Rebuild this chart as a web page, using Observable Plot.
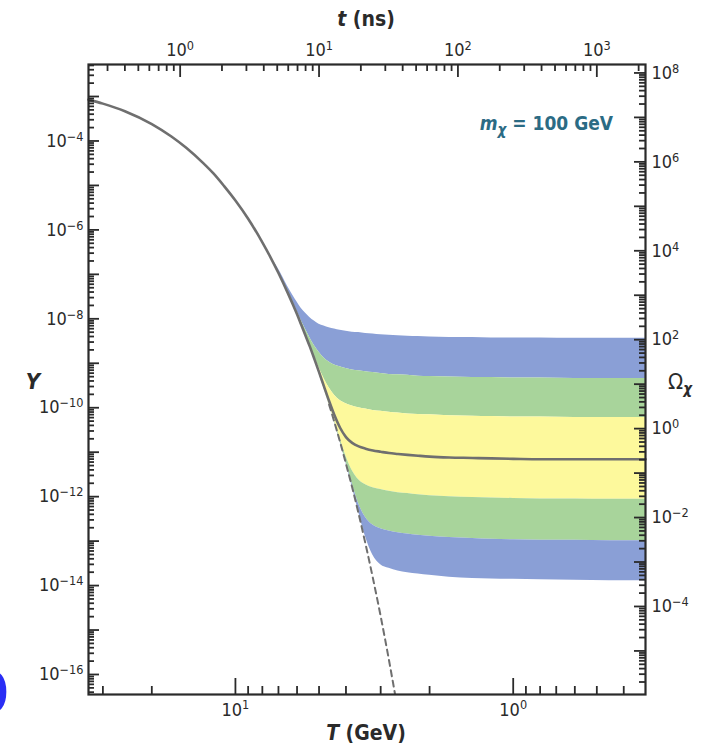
<!DOCTYPE html>
<html><head><meta charset="utf-8">
<script src="https://cdn.jsdelivr.net/npm/d3@7"></script>
<script src="https://cdn.jsdelivr.net/npm/@observablehq/plot@0.6"></script>
<style>
html,body{margin:0;padding:0;background:#fff;overflow:hidden}
#chart{position:relative;width:722px;height:744px}
</style></head><body><div id="chart"></div>
<script>
// ---------- data (log10 of Y) ----------
const solidT = [33.8, 30, 25, 20, 17, 15, 13, 12, 11, 10, 9, 8, 7.5, 7, 6.5, 6.2, 6, 5.8, 5.6, 5.4, 5.2, 5, 4.8, 4.6, 4.4, 4.2, 4, 3.8, 3.6, 3.4, 3.2, 3, 2.8, 2.6, 2.4, 2.2, 2, 1.7, 1.4, 1.2, 1, 0.8, 0.6, 0.45, 0.334];
const solidLogY = [-3.07, -3.16, -3.33, -3.62, -3.90, -4.16, -4.51, -4.73, -5.01, -5.34, -5.75, -6.28, -6.60, -6.97, -7.40, -7.69, -7.90, -8.13, -8.37, -8.62, -8.90, -9.20, -9.52, -9.85, -10.17, -10.45, -10.66, -10.79, -10.87, -10.92, -10.96, -10.99, -11.02, -11.04, -11.06, -11.08, -11.10, -11.12, -11.13, -11.14, -11.15, -11.16, -11.16, -11.16, -11.16];

const dashedT = [4.6, 4.4, 4.2, 4, 3.8, 3.6, 3.4, 3.2, 3, 2.8, 2.7, 2.6];
const dashedLogY = [-9.93, -10.33, -10.77, -11.26, -11.79, -12.39, -13.07, -13.83, -14.69, -15.68, -16.23, -16.82];

const bandT = [7.5, 7, 6.5, 6.2, 6, 5.8, 5.6, 5.4, 5.2, 5, 4.8, 4.6, 4.4, 4.2, 4, 3.8, 3.6, 3.4, 3.2, 3, 2.8, 2.6, 2.4, 2.2, 2, 1.7, 1.4, 1.2, 1, 0.8, 0.6, 0.45, 0.334];
const c1 = [-6.60, -6.88, -7.26, -7.48, -7.62, -7.76, -7.87, -7.97, -8.05, -8.12, -8.16, -8.20, -8.23, -8.26, -8.28, -8.30, -8.31, -8.33, -8.34, -8.36, -8.37, -8.38, -8.39, -8.40, -8.41, -8.42, -8.42, -8.43, -8.43, -8.43, -8.44, -8.44, -8.44];
const c2 = [-6.60, -6.97, -7.34, -7.63, -7.83, -8.03, -8.23, -8.42, -8.60, -8.75, -8.88, -8.97, -9.04, -9.08, -9.12, -9.15, -9.17, -9.19, -9.21, -9.23, -9.25, -9.26, -9.27, -9.29, -9.30, -9.31, -9.32, -9.32, -9.33, -9.33, -9.34, -9.34, -9.34];
const c3 = [-6.60, -6.97, -7.40, -7.69, -7.87, -8.10, -8.33, -8.58, -8.84, -9.10, -9.34, -9.55, -9.72, -9.84, -9.91, -9.96, -10.00, -10.03, -10.06, -10.08, -10.10, -10.12, -10.14, -10.15, -10.16, -10.18, -10.19, -10.20, -10.21, -10.21, -10.22, -10.22, -10.22];
const c4 = [-6.60, -6.97, -7.40, -7.69, -7.90, -8.13, -8.37, -8.62, -8.90, -9.20, -9.52, -9.85, -10.17, -10.45, -10.66, -10.79, -10.87, -10.92, -10.96, -10.99, -11.02, -11.04, -11.06, -11.08, -11.10, -11.12, -11.13, -11.14, -11.15, -11.16, -11.16, -11.16, -11.16];
const c5 = [-6.60, -6.97, -7.40, -7.69, -7.90, -8.13, -8.37, -8.64, -8.92, -9.22, -9.55, -9.91, -10.30, -10.70, -11.09, -11.41, -11.62, -11.73, -11.80, -11.84, -11.88, -11.91, -11.93, -11.96, -11.98, -12.00, -12.02, -12.03, -12.04, -12.05, -12.05, -12.06, -12.06];
const c6 = [-6.60, -6.97, -7.40, -7.69, -7.90, -8.13, -8.37, -8.64, -8.92, -9.23, -9.57, -9.93, -10.32, -10.76, -11.22, -11.71, -12.16, -12.47, -12.64, -12.72, -12.77, -12.81, -12.84, -12.87, -12.89, -12.92, -12.94, -12.96, -12.97, -12.98, -12.98, -12.99, -12.99];
const c7 = [-6.60, -6.97, -7.40, -7.69, -7.90, -8.13, -8.37, -8.64, -8.92, -9.23, -9.57, -9.93, -10.33, -10.77, -11.25, -11.78, -12.35, -12.91, -13.32, -13.53, -13.61, -13.67, -13.71, -13.74, -13.77, -13.81, -13.84, -13.85, -13.86, -13.87, -13.88, -13.89, -13.89];

// axis / tick data
const xDomain = [33.8, 0.334];          // T (GeV), decreasing to the right
const yDomainExp = [-16.45, -2.28];     // log10 Y
const yLabelExp = [-16, -14, -12, -10, -8, -6, -4];
const omegaLabelExp = [-4, -2, 0, 2, 4, 6, 8];
const omegaOffset = 10.47;              // log10(Omega / Y)
const TLabels = [10, 1];
const TLabelExp = [1, 0];
const tLabels = [1, 10, 100, 1000];     // t (ns)
const tConst = 250;                     // t(ns) = tConst / T(GeV)^2
const bandColors = ["#8a9fd6", "#a8d49b", "#fdf99c", "#fdf99c", "#a8d49b", "#8a9fd6"];

// ---------- helpers ----------
const p10 = v => Math.pow(10, v);
const FONT = "'Liberation Sans Narrow','DejaVu Sans Condensed','Liberation Sans',sans-serif";
const ML = 88, MR = 77, MT = 64, MB = 50, W = 722, H = 744;
const FW = W - ML - MR, FH = H - MT - MB;
const INK = "#2a2a2a";

const inDom = (v, lo, hi) => v >= lo && v <= hi;
const yLo = p10(yDomainExp[0]), yHi = p10(yDomainExp[1]);
function logTicks(e0, e1, lo, hi) {
  const major = [], minor = [];
  for (let e = e0; e <= e1; e++) {
    const b = p10(e);
    if (inDom(b, lo, hi)) major.push(b);
    for (let k = 2; k <= 9; k++) if (inDom(k * b, lo, hi)) minor.push(k * b);
  }
  return {major, minor};
}
const yT = logTicks(-17, -2, yLo, yHi);
const om = logTicks(-7, 9, yLo * p10(omegaOffset), yHi * p10(omegaOffset));
const omMajor = om.major.map(v => v / p10(omegaOffset));
const omMinor = om.minor.map(v => v / p10(omegaOffset));
const TT = logTicks(-1, 2, xDomain[1], xDomain[0]);
const tMin = tConst / (xDomain[0] ** 2), tMax = tConst / (xDomain[1] ** 2);
const tt = logTicks(-1, 4, tMin, tMax);
const tToT = t => Math.sqrt(tConst / t);

const bandRows = bandT.map((T, i) => ({T, c1: p10(c1[i]), c2: p10(c2[i]), c3: p10(c3[i]), c4: p10(c4[i]), c5: p10(c5[i]), c6: p10(c6[i]), c7: p10(c7[i])}));
const solidRows = solidT.map((T, i) => ({T, Y: p10(solidLogY[i])}));
const dashedRows = dashedT.map((T, i) => ({T, Y: p10(dashedLogY[i])}));
const pairs = [["c1","c2"],["c2","c3"],["c3","c4"],["c4","c5"],["c5","c6"],["c6","c7"]];

const tickStyle = {stroke: INK, strokeWidth: 1.8};
const MAJ = 11, MIN = 6, XMAJ = 13, XMIN = 7;

const chart = Plot.plot({
  width: W, height: H,
  marginLeft: ML, marginRight: MR, marginTop: MT, marginBottom: MB,
  x: {type: "log", domain: xDomain, axis: null},
  y: {type: "log", domain: [yLo, yHi], axis: null},
  style: {fontFamily: FONT, fontSize: "18px", color: INK, background: "#fff", overflow: "visible"},
  marks: [
    ...pairs.map(([a, b], i) => Plot.areaY(bandRows, {x: "T", y1: a, y2: b, fill: bandColors[i], curve: "monotone-x"})),
    Plot.line(dashedRows, {x: "T", y: "Y", stroke: "#6f6f6f", strokeWidth: 2, strokeDasharray: "6,4.5", curve: "monotone-x", clip: true}),
    Plot.line(solidRows, {x: "T", y: "Y", stroke: "#6f6f6f", strokeWidth: 2.6, curve: "monotone-x"}),
    // left ticks
    Plot.tickY(yT.major, {y: d => d, insetRight: FW - MAJ, ...tickStyle}),
    Plot.tickY(yT.minor, {y: d => d, insetRight: FW - MIN, ...tickStyle}),
    // right ticks (Omega)
    Plot.tickY(omMajor, {y: d => d, insetLeft: FW - MAJ, ...tickStyle}),
    Plot.tickY(omMinor, {y: d => d, insetLeft: FW - MIN, ...tickStyle}),
    // bottom ticks (T)
    Plot.tickX(TT.major, {x: d => d, insetTop: FH - XMAJ - 3, ...tickStyle}),
    Plot.tickX(TT.minor, {x: d => d, insetTop: FH - XMIN - 1, ...tickStyle}),
    // top ticks (t)
    Plot.tickX(tt.major.map(tToT), {x: d => d, insetBottom: FH - XMAJ, ...tickStyle}),
    Plot.tickX(tt.minor.map(tToT), {x: d => d, insetBottom: FH - XMIN, ...tickStyle}),
    Plot.frame({stroke: INK, strokeWidth: 2.2}),
    // tick labels
    Plot.text(yLabelExp, {y: d => p10(d), frameAnchor: "left", dx: -5, textAnchor: "end", text: d => `10^${d}`, fill: INK}),
    Plot.text(omegaLabelExp, {y: d => p10(d - omegaOffset), frameAnchor: "right", dx: 6, textAnchor: "start", text: d => `10^${d}`, fill: INK}),
    Plot.text(TLabels, {x: d => d, frameAnchor: "bottom", dy: 21, text: (d, i) => `10^${TLabelExp[i]}`, fill: INK}),
    Plot.text(tLabels, {x: d => tToT(d), frameAnchor: "top", dy: -21, text: d => `10^${Math.round(Math.log10(d))}`, fill: INK})
  ]
});
document.getElementById("chart").appendChild(chart);

// superscripts for "10^n" labels
const svg = d3.select(chart);
svg.selectAll("text").each(function() {
  const m = /^10\^(-?\d+)$/.exec(this.textContent);
  if (m) {
    const e = m[1].replace("-", "\u2212");
    this.innerHTML = `10<tspan dy="-0.48em" font-size="0.7em">${e}</tspan>`;
  }
});

// axis titles and annotation
function addText(x, y, html, attrs) {
  const t = svg.append("text").attr("x", x).attr("y", y).attr("font-family", FONT).attr("fill", INK);
  for (const k in attrs) t.attr(k, attrs[k]);
  t.html(html);
  return t;
}
addText(366, 26, `<tspan font-style="italic">t</tspan> (ns)`, {"text-anchor": "middle", "font-size": 21, "font-weight": "bold"});
addText(366, 740, `<tspan font-style="italic">T</tspan> (GeV)`, {"text-anchor": "middle", "font-size": 21, "font-weight": "bold"});
addText(33, 389, `Y`, {"text-anchor": "middle", "font-size": 22, "font-weight": "bold", "font-style": "italic"});
addText(668, 389, `\u03A9<tspan dy="5" font-size="15" font-style="italic" font-weight="bold">\u03C7</tspan>`, {"text-anchor": "start", "font-size": 22});
addText(613, 130, `<tspan font-style="italic">m</tspan><tspan dy="5" font-size="15" font-style="italic">\u03C7</tspan><tspan dy="-5"> = 100 GeV</tspan>`, {"text-anchor": "end", "font-size": 19, "font-weight": "bold", fill: "#2b6b84"});
addText(9, 713, `0`, {"text-anchor": "end", "font-size": 58, "font-weight": "bold", fill: "#2a2ef5", "font-family": "'DejaVu Sans',sans-serif"});
</script>
</body></html>
